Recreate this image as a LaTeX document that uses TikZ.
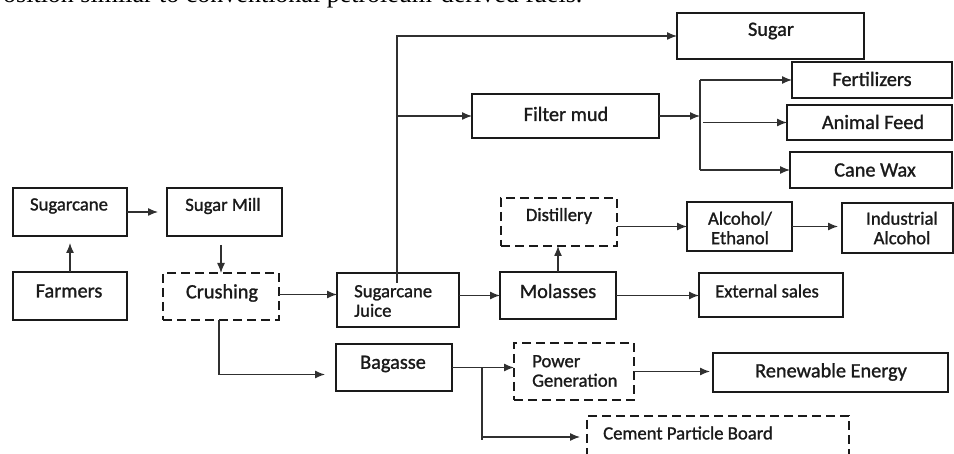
\documentclass[tikz,border=0pt]{standalone}
\usepackage{fontspec}
\setmainfont{Carlito}
\newfontfamily\boxfont[FakeBold=1.2]{Carlito}
\newfontfamily\bodyserif{Liberation Serif}
\usetikzlibrary{arrows.meta,calc}
\definecolor{ink}{HTML}{1A1A1A}
\definecolor{wire}{HTML}{303030}
\begin{document}
\begin{tikzpicture}[x=1pt,y=-1pt,
  box/.style={draw=ink, line width=2.6pt, rectangle, inner sep=0pt, outer sep=0pt},
  dbox/.style={box, dash pattern=on 9pt off 5pt},
  lbl/.style={font=\boxfont\fontsize{20.3}{19}\selectfont, text=ink, inner sep=0pt},
  slbl/.style={font=\boxfont\fontsize{18.7}{19.5}\selectfont, text=ink, inner sep=0pt},
  conn/.style={draw=wire, line width=1.3pt},
  arr/.style={conn, -{Latex[length=10pt,width=8pt]}}
]
\path[fill=white, use as bounding box] (0,0) rectangle (954,454);
\clip (0,0) rectangle (954,454);

% fragment of surrounding text, cut by the top edge as in the reference
\node[anchor=base west, inner sep=0pt, font=\bodyserif\fontsize{26}{26}\selectfont, text=black] (topline) at (3,3) {osition similar to conventional petroleum-derived fuels.};

% boxes
\node[box, minimum width=187pt, minimum height=46pt] (sugar) at (770.5,36) {};
\node[box, minimum width=160pt, minimum height=36pt] (fert) at (872,80) {};
\node[box, minimum width=165pt, minimum height=35pt] (animal) at (869.5,122.5) {};
\node[box, minimum width=162pt, minimum height=36pt] (cane) at (871,170) {};
\node[box, minimum width=187pt, minimum height=44pt] (filter) at (565.5,116) {};
\node[box, minimum width=114pt, minimum height=48pt] (sugarcane) at (70,212) {};
\node[box, minimum width=115pt, minimum height=48pt] (mill) at (224.5,212) {};
\node[box, minimum width=114pt, minimum height=48pt] (farmers) at (70,296) {};
\node[dbox, minimum width=116pt, minimum height=47pt] (crushing) at (221,296.5) {};
\node[box, minimum width=122pt, minimum height=54pt] (juice) at (398,300) {};
\node[dbox, minimum width=116pt, minimum height=48pt] (distillery) at (559,222) {};
\node[box, minimum width=105pt, minimum height=49pt] (alcohol) at (739.5,226.5) {};
\node[box, minimum width=111pt, minimum height=50pt] (industrial) at (897.5,228) {};
\node[box, minimum width=116pt, minimum height=47pt] (molasses) at (558,295.5) {};
\node[box, minimum width=144pt, minimum height=44pt] (external) at (771,295) {};
\node[box, minimum width=116pt, minimum height=47pt] (bagasse) at (394,367.5) {};
\node[dbox, minimum width=120pt, minimum height=57pt] (power) at (574,371.5) {};
\node[box, minimum width=235pt, minimum height=39pt] (renewable) at (830.5,372.5) {};
\node[dbox, minimum width=262pt, minimum height=74pt] (cement) at (718,453) {};

% labels
\node[lbl] (sugarT) at (771,31) {Sugar};
\node[lbl] (fertT) at (872,79) {Fertilizers};
\node[lbl] (animalT) at (873,122) {Animal Feed};
\node[lbl] (caneT) at (875,170) {Cane Wax};
\node[lbl] (filterT) at (566,114) {Filter mud};
\node[slbl] (sugarcaneT) at (69,206) {Sugarcane};
\node[slbl] (millT) at (223,206) {Sugar Mill};
\node[lbl] (farmersT) at (69,291) {Farmers};
\node[lbl] (crushingT) at (222,293) {Crushing};
\node[slbl, anchor=west, align=left] (juiceT) at (354,301) {Sugarcane\\Juice};
\node[slbl] (distilleryT) at (559,216) {Distillery};
\node[slbl, align=center] (alcoholT) at (740,228) {Alcohol/\\Ethanol};
\node[slbl, align=center] (industrialT) at (902,228) {Industrial\\Alcohol};
\node[lbl] (molassesT) at (558,291) {Molasses};
\node[slbl] (externalT) at (767,291) {External sales};
\node[lbl] (bagasseT) at (393,364) {Bagasse};
\node[slbl, anchor=west, align=left] (powerT) at (532,371) {Power\\Generation};
\node[lbl] (renewableT) at (831,372) {Renewable Energy};
\node[slbl, anchor=west] (cementT) at (603,433) {Cement Particle Board};

% connectors
\draw[arr, shorten >=7pt] (farmers.north) -- (sugarcane.south);
\draw[arr, shorten >=9pt] (sugarcane.east) -- (mill.west);
\draw[arr, shorten <=9pt] (crushing.north |- mill.south) -- (crushing.north);
\draw[arr] ([yshift=2pt]crushing.east) -- ([yshift=2pt]crushing.east -| juice.west);
\draw[arr] ([xshift=-2pt]crushing.south) |- ([xshift=-11pt,yshift=-7pt]bagasse.west);

\coordinate (jb) at (397,283);
\draw[arr] (jb) -- (jb |- sugar.west) -- (sugar.west);
\draw[arr] (jb |- filter.west) -- (filter.west);

\coordinate (fx) at (700,0);
\draw[arr] (filter.east) -- (filter.east -| fx);
\draw[conn] (fx |- fert.west) -- (fx |- cane.west);
\draw[arr] (fx |- fert.west) -- (fert.west);
\draw[arr] ([xshift=3pt]fx |- animal.west) -- (animal.west);
\draw[arr] (fx |- cane.west) -- (cane.west);

\draw[arr] (juice.east |- molasses.west) -- (molasses.west);
\draw[arr] (molasses.north) -- (molasses.north |- distillery.south);
\draw[arr] (distillery.east |- alcohol.west) -- (alcohol.west);
\draw[arr, shorten >=4pt] (alcohol.east) -- (alcohol.east -| industrial.west);
\draw[arr] (molasses.east) -- (molasses.east -| external.west);

\draw[arr] (bagasse.east) -- (bagasse.east -| power.west);
\coordinate (bx) at (482,367.5);
\coordinate (cx) at (482,437);
\draw[conn] (bx) -- ([yshift=-3pt]cx);
\draw[arr, shorten >=7pt] (cx) -- (cx -| cement.west);
\draw[arr, shorten >=3pt] (power.east) -- (power.east -| renewable.west);
\end{tikzpicture}
\end{document}
